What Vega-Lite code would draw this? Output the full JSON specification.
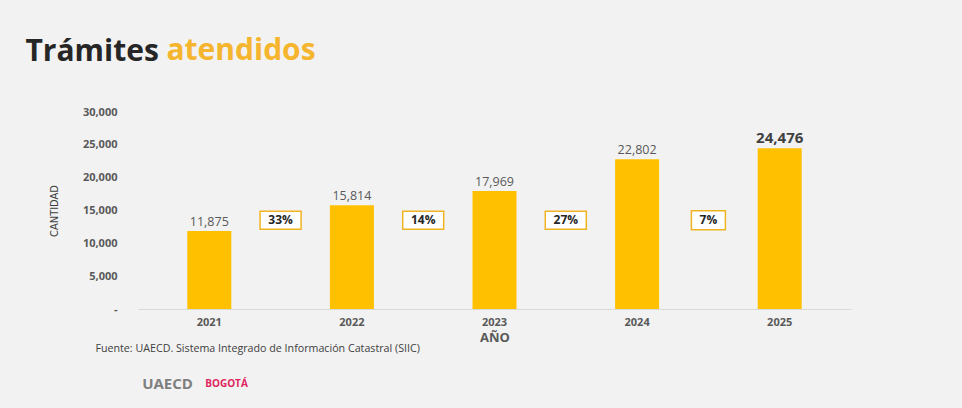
{
  "$schema": "https://vega.github.io/schema/vega-lite/v6.json",
  "background": "#f2f2f2",
  "padding": {"left": 25, "top": 36, "right": 112, "bottom": 0},
  "config": {
    "view": {"stroke": null},
    "font": "Open Sans",
    "concat": {"spacing": 0}
  },
  "title": {
    "text": "Trámites",
    "anchor": "start",
    "frame": "bounds",
    "fontSize": 30,
    "fontWeight": "bold",
    "color": "#262626",
    "dx": -23,
    "dy": 31,
    "offset": 0
  },
  "vconcat": [
    {
      "title": {
        "text": "atendidos",
        "anchor": "start",
        "frame": "bounds",
        "fontSize": 30,
        "fontWeight": "bold",
        "color": "#F5B52E",
        "dx": 118,
        "offset": 40
      },
      "vconcat": [
        {
          "title": {
            "text": "Fuente: UAECD. Sistema Integrado de Información Catastral (SIIC)",
            "orient": "bottom",
            "anchor": "start",
            "frame": "bounds",
            "fontSize": 10.7,
            "fontWeight": "normal",
            "color": "#404040",
            "dx": 47,
            "offset": 0
          },
          "width": 713,
          "height": 197,
          "data": {
            "values": [
              {"year": "2021", "cantidad": 11875, "variacion": "33%"},
              {"year": "2022", "cantidad": 15814, "variacion": "14%"},
              {"year": "2023", "cantidad": 17969, "variacion": "27%"},
              {"year": "2024", "cantidad": 22802, "variacion": "7%"},
              {"year": "2025", "cantidad": 24476, "variacion": null}
            ]
          },
          "encoding": {
            "x": {
              "field": "year",
              "type": "ordinal",
              "scale": {"paddingInner": 0, "paddingOuter": 0},
              "axis": {
                "title": "AÑO",
                "titleFontSize": 13,
                "titleFontWeight": "bold",
                "titleColor": "#595959",
                "labelAngle": 0,
                "labelFontSize": 11,
                "labelFontWeight": "bold",
                "labelColor": "#595959",
                "labelPadding": 7,
                "ticks": false,
                "domainColor": "#d9d9d9",
                "titlePadding": 4
              }
            },
            "y": {
              "field": "cantidad",
              "type": "quantitative",
              "scale": {"domain": [0, 30000], "nice": false},
              "axis": {
                "title": "CANTIDAD",
                "titleFont": "DejaVu Sans Condensed",
                "titleFontSize": 11,
                "titleFontWeight": "normal",
                "titleColor": "#404040",
                "titlePadding": 23,
                "values": [0, 5000, 10000, 15000, 20000, 25000, 30000],
                "tickCount": 7,
                "labelExpr": "datum.value == 0 ? '-      ' : format(datum.value, ',')",
                "labelOverlap": false,
                "labelFontSize": 11,
                "labelFontWeight": "bold",
                "labelColor": "#595959",
                "labelPadding": 21,
                "grid": false,
                "domain": false,
                "ticks": false
              }
            }
          },
          "layer": [
            {
              "mark": {"type": "bar", "color": "#FFC000", "size": 44}
            },
            {
              "transform": [{"filter": "datum.year != '2025'"}],
              "mark": {"type": "text", "baseline": "bottom", "dy": -2, "fontSize": 12.5, "color": "#595959"},
              "encoding": {
                "text": {"field": "cantidad", "type": "quantitative", "format": ","}
              }
            },
            {
              "transform": [{"filter": "datum.year == '2025'"}],
              "mark": {"type": "text", "baseline": "bottom", "dy": -2, "fontSize": 15, "fontWeight": "bold", "color": "#404040"},
              "encoding": {
                "text": {"field": "cantidad", "type": "quantitative", "format": ","}
              }
            },
            {
              "transform": [{"filter": "datum.variacion != null"}],
              "mark": {
                "type": "point",
                "filled": true,
                "fill": "#ffffff",
                "stroke": "#F0B323",
                "strokeWidth": 1.5,
                "opacity": 1
              },
              "encoding": {
                "x": {"field": "year", "type": "ordinal", "bandPosition": 1},
                "y": {"datum": 13500, "type": "quantitative"},
                "shape": {
                  "condition": {"test": "datum.variacion == '7%'", "value": "M-1,-0.56H1V0.56H-1Z"},
                  "value": "M-1,-0.44H1V0.44H-1Z"
                },
                "size": {
                  "condition": {"test": "datum.variacion == '7%'", "value": 1156},
                  "value": 1681
                }
              }
            },
            {
              "transform": [{"filter": "datum.variacion != null"}],
              "mark": {"type": "text", "fontSize": 12, "fontWeight": "bold", "color": "#262626"},
              "encoding": {
                "x": {"field": "year", "type": "ordinal", "bandPosition": 1},
                "y": {"datum": 13500, "type": "quantitative"},
                "text": {"field": "variacion"}
              }
            }
          ]
        }
      ]
    },
    {
      "width": 118,
      "height": 60,
      "data": {
        "values": [
          {"logo": "UAECD"},
          {"logo": "BOGOTÁ"}
        ]
      },
      "mark": {"type": "text", "fontWeight": "bold"},
      "encoding": {
        "x": {
          "field": "logo",
          "type": "nominal",
          "sort": ["UAECD", "BOGOTÁ"],
          "scale": {"paddingInner": 0, "paddingOuter": 0},
          "axis": null
        },
        "text": {"field": "logo"},
        "size": {
          "condition": {"test": "datum.logo == 'UAECD'", "value": 15},
          "value": 10
        },
        "color": {
          "condition": {"test": "datum.logo == 'UAECD'", "value": "#7f7f7f"},
          "value": "#E0245E"
        }
      }
    }
  ]
}
